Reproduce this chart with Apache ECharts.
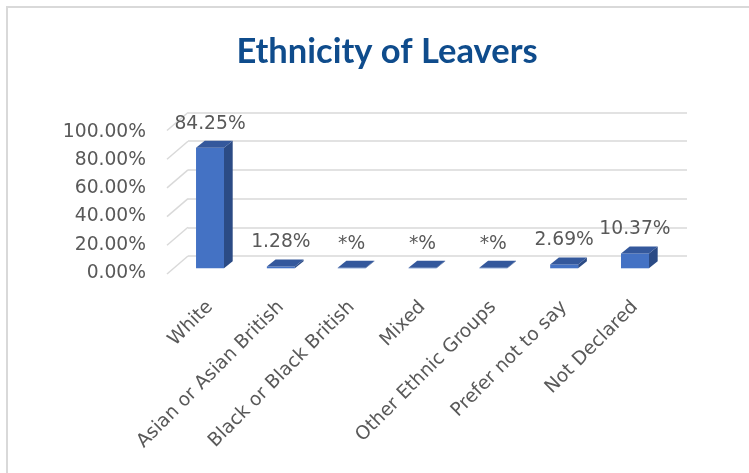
<!DOCTYPE html>
<html>
<head>
<meta charset="utf-8">
<script src="https://cdn.jsdelivr.net/npm/echarts@6/dist/echarts.min.js"></script>
<style>
  html, body { margin: 0; padding: 0; background: #fff; }
  #chart { width: 749px; height: 473px; }
</style>
</head>
<body>
<div id="chart"></div>
<script>
// data (the *% ones are suppressed small numbers)
const categories = ['White', 'Asian or Asian British', 'Black or Black British', 'Mixed',
  'Other Ethnic Groups', 'Prefer not to say', 'Not Declared'];
const values = [84.25, 1.28, 0.3, 0.3, 0.3, 2.69, 10.37];
const valueLabels = ['84.25%', '1.28%', '*%', '*%', '*%', '2.69%', '10.37%'];
const yTicks = [0, 20, 40, 60, 80, 100];

const textColor = '#595959';
const labelFont = 'DejaVu Sans';
const gridColor = '#d9d9d9';
// fake 3d depth of the bars and of the wall
const depthX = 8.7, depthY = 7;
const slantX = 21, slantY = 18;

function renderBar(params, api) {
  const i = api.value(0);
  const base = api.coord([i, 0]);
  const top = api.coord([i, api.value(1)]);
  const w = api.size([1, 0])[0] * 0.395;
  const x0 = base[0] - w / 2, x1 = base[0] + w / 2;
  return {
    type: 'group',
    children: [
      {
        type: 'polygon',
        shape: { points: [[x1, top[1]], [x1 + depthX, top[1] - depthY], [x1 + depthX, base[1] - depthY], [x1, base[1]]] },
        style: { fill: '#2b4b85' }
      },
      {
        type: 'rect',
        shape: { x: x0, y: top[1], width: w, height: base[1] - top[1] },
        style: { fill: '#4472c4' }
      },
      {
        type: 'polygon',
        shape: { points: [[x0, top[1]], [x0 + depthX, top[1] - depthY], [x1 + depthX, top[1] - depthY], [x1, top[1]]] },
        style: { fill: '#34589c' }
      },
      {
        type: 'text',
        x: base[0],
        y: top[1] - 24,
        style: {
          text: valueLabels[params.dataIndex],
          fill: textColor,
          font: '18.7px "' + labelFont + '"',
          align: 'center',
          verticalAlign: 'middle'
        }
      }
    ]
  };
}

// slanted bits of the gridlines going from the back wall to the front edge
function renderSlant(params, api) {
  const p = api.coord([0, api.value(1)]);
  return {
    type: 'line',
    shape: { x1: p[0], y1: p[1], x2: p[0] - slantX, y2: p[1] + slantY },
    style: { stroke: gridColor, lineWidth: 1.5 }
  };
}

const chart = echarts.init(document.getElementById('chart'));
chart.setOption({
  animation: false,
  backgroundColor: '#fff',
  title: {
    text: 'Ethnicity of Leavers',
    left: 382,
    top: 29,
    textAlign: 'center',
    textStyle: { fontFamily: 'Lato', fontWeight: 'bold', fontSize: 34.5, color: '#0f4c8c' }
  },
  graphic: [{
    type: 'rect',
    shape: { x: 7, y: 7, width: 800, height: 600 },
    style: { fill: 'none', stroke: gridColor, lineWidth: 2 },
    silent: true
  }],
  grid: [
    { left: 188, right: 62, top: 112.5, height: 143.5 },   // back wall
    { left: 174.6, width: 495.8, top: 125.2, height: 143.1 },   // bars
    { left: 167, width: 10, top: 131.7, height: 141.3 }   // front edge, y labels
  ],
  xAxis: [
    { gridIndex: 0, type: 'value', min: 0, max: 1, show: false },
    {
      gridIndex: 1, type: 'category', data: categories,
      axisLine: { show: false }, axisTick: { show: false },
      axisLabel: { interval: 0, rotate: 45, margin: 36, color: textColor, fontFamily: labelFont, fontSize: 18.7 }
    },
    { gridIndex: 2, type: 'value', min: 0, max: 1, show: false }
  ],
  yAxis: [
    {
      gridIndex: 0, type: 'value', min: 0, max: 100, interval: 20,
      axisLabel: { show: false }, axisLine: { show: false }, axisTick: { show: false },
      splitLine: { lineStyle: { color: gridColor, width: 1.5 } }
    },
    { gridIndex: 1, type: 'value', min: 0, max: 100, show: false, splitLine: { show: false } },
    {
      gridIndex: 2, type: 'value', min: 0, max: 100, interval: 20,
      axisLine: { show: false }, axisTick: { show: false }, splitLine: { show: false },
      axisLabel: {
        margin: 21, color: textColor, fontFamily: labelFont, fontSize: 18.7,
        formatter: v => v.toFixed(2) + '%'
      }
    }
  ],
  series: [
    {
      type: 'custom',
      xAxisIndex: 0, yAxisIndex: 0,
      renderItem: renderSlant,
      data: yTicks.map(v => [0, v]),
      silent: true
    },
    {
      type: 'custom',
      xAxisIndex: 1, yAxisIndex: 1,
      renderItem: renderBar,
      data: values.map((v, i) => [i, v]),
      z: 5
    }
  ]
});
</script>
</body>
</html>
